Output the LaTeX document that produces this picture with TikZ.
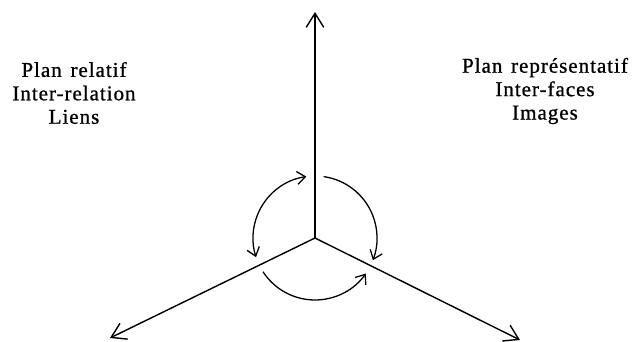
\documentclass[tikz,border=0pt]{standalone}
\usepackage{fontspec}
\setmainfont{Liberation Serif}[LetterSpace=4.5,WordSpace=1.4,FakeBold=0.8]
\usetikzlibrary{arrows.meta}
\tikzset{axe/.style={line width=1.2pt,-{Straight Barb[length=12pt,width=15pt]}},
  tour/.style={line width=1.1pt,-{Straight Barb[length=7pt,width=11pt]}},
  plan/.style={font=\fontsize{18}{20}\selectfont,align=center,inner sep=0pt}}

\begin{document}
\begin{tikzpicture}[x=0.03cm,y=0.03cm]
  \useasboundingbox (0,0) rectangle (635,342);
  \coordinate (O) at (315,104);
  \coordinate (haut) at (315,330);
  \coordinate (gauche) at (110,4);
  \coordinate (droite) at (520,2);
  \draw[axe] (O) -- (haut);
  \draw[axe] (O) -- (gauche);
  \draw[axe] (O) -- (droite);
  % rotations autour de O
  \draw[tour,{Straight Barb[length=7pt,width=11pt]}-{Straight Barb[length=7pt,width=11pt]}]
    ([shift={(98:62)}]O) arc (98:198:62);
  \draw[tour] ([shift={(82:62)}]O) arc (82:-21:62);
  \draw[tour] ([shift={(213:62)}]O) arc (213:325:62);
  \node[plan] (relatif) at (74,249) {Plan relatif\\Inter-relation\\Liens};
  \node[plan] (repres) at (545,251) {Plan représentatif\\Inter-faces\\Images};
\end{tikzpicture}
\end{document}
